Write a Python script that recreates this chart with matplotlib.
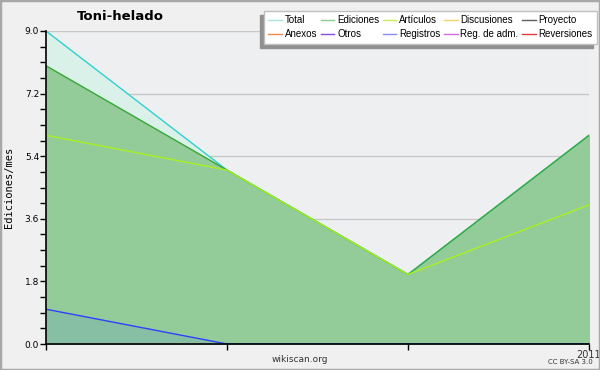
import numpy as np
import matplotlib
matplotlib.use("Agg")
import matplotlib.pyplot as plt
from matplotlib.patches import Rectangle

# data (monthly edits)
months = [0, 1, 2, 3]
xtick_labels = ["", "", "", "2011"]
total = [9, 5, 2, 6]
ediciones = [8, 5, 2, 6]
articulos = [6, 5, 2, 4]
registros = [1, 0, 0, 0]

legend_names = ["Total", "Anexos", "Ediciones", "Otros", "Artículos",
                "Registros", "Discusiones", "Reg. de adm.", "Proyecto", "Reversiones"]
legend_colors = ["#a6e3e0", "#f08a4b", "#8ccc8c", "#8a4be0", "#c8ee55",
                 "#8a8af0", "#f5d26a", "#d46ae0", "#606060", "#e03a3a"]

fig = plt.figure(figsize=(6, 3.7), dpi=100, facecolor="#f0f0f0")
fig.patches.append(Rectangle((0, 0), 1, 1, transform=fig.transFigure, fill=False,
                             edgecolor="#a8a8a8", linewidth=2.5))

ax = fig.add_axes([46/600, 26/370, 543/600, 313/370])
ax.set_facecolor("#eeeff0")

ax.fill_between(months, total, color="#daf1ea", zorder=1)
ax.fill_between(months, ediciones, color="#93cc99", zorder=1.1)
ax.fill_between(months, registros, color="#86bfa4", zorder=1.2)

ax.plot(months, total, color="#30d0d0", lw=1, zorder=2)
ax.plot(months, ediciones, color="#3aa83a", lw=1, zorder=2.1)
ax.plot(months, articulos, color="#aaf020", lw=1, zorder=2.2)
ax.plot(months, registros, color="#3040ff", lw=1, zorder=2.3)

ax.set_xlim(0, 3)
ax.set_ylim(0, 9)
ax.set_yticks(np.arange(0, 9.01, 1.8))
ax.set_yticklabels(["0.0", "1.8", "3.6", "5.4", "7.2", "9.0"])
ax.set_yticks(np.arange(0, 9.01, 0.45), minor=True)
ax.set_xticks(months)
ax.set_xticklabels(xtick_labels)
ax.yaxis.grid(True, color="#c8c8c8", lw=1, zorder=0.5)
ax.set_axisbelow(True)
ax.tick_params(axis="y", labelsize=6.5, length=4, width=1, pad=1, colors="black")
ax.tick_params(axis="y", which="minor", length=4, width=1)
ax.tick_params(axis="x", labelsize=7, length=4, width=1, pad=0, colors="black")
ax.xaxis.get_majorticklabels()[-1].set_color("#333333")
for s in ["top", "right"]:
    ax.spines[s].set_visible(False)
for s in ["left", "bottom"]:
    ax.spines[s].set_linewidth(1.2)
    ax.spines[s].set_zorder(5)

ax.set_ylabel("Ediciones/mes", fontsize=7.5, family="DejaVu Sans Mono", labelpad=8)

fig.text(120/600, 1 - 17/370, "Toni-helado", fontsize=9.5, fontweight="bold",
         ha="center", va="center")
fig.text(300/600, 1 - 360/370, "wikiscan.org", fontsize=6.5, color="#333333",
         ha="center", va="center")
fig.text(570/600, 1 - 362/370, "CC BY-SA 3.0", fontsize=5, color="#333333",
         ha="center", va="center")

handles = [plt.Line2D([], [], color=c, lw=1) for c in legend_colors]
fig.legend(handles, legend_names, loc="upper right", ncol=5,
           bbox_to_anchor=(597/600, 1 - 11/370),
           prop={"family": "Liberation Sans", "size": 7},
           frameon=True, fancybox=False, edgecolor="#c0c0c0", facecolor="white",
           framealpha=1, shadow={"ox": -3, "oy": -3, "color": "#909090", "alpha": 1},
           handlelength=1.4, handletextpad=0.3, columnspacing=0.35,
           labelspacing=0.4, borderpad=0.45, borderaxespad=0)

fig.savefig("out.png", dpi=100, facecolor=fig.get_facecolor())
